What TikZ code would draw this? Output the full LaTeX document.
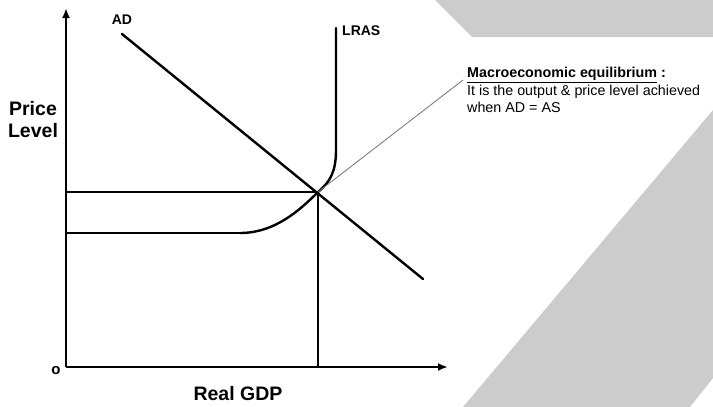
\documentclass[tikz,border=0pt]{standalone}
\usepackage{fontspec}
\setmainfont{Liberation Sans}
\usetikzlibrary{arrows.meta}
\definecolor{panelgray}{RGB}{204,204,204}
\definecolor{leadgray}{RGB}{125,125,125}
\newcommand{\axisfont}{\fontsize{19.5}{22}\selectfont\bfseries}
\newcommand{\curvefont}{\fontsize{14}{16}\selectfont\bfseries}
\newcommand{\notefont}{\fontsize{14.3}{17.5}\selectfont}

\begin{document}
\begin{tikzpicture}[x=1pt,y=-1pt,
    axis/.style={line width=2.6pt,-{Latex[length=10pt,width=8pt]}},
    curve/.style={line width=2.4pt,line cap=round},
    guide/.style={line width=2.4pt}]
    \useasboundingbox (0,0) rectangle (713,407);
    \fill[panelgray] (435,0) -- (472,37) -- (713,37) -- (713,0) -- cycle;
    \fill[panelgray] (463,407) -- (713,110) -- (713,378) -- (690,407) -- cycle;

    \coordinate (O) at (66,367);
    \coordinate (ytop) at (66,8);
    \coordinate (xend) at (448,367);
    \coordinate (E) at (318,192);
    \coordinate (P1) at (66,192);
    \coordinate (Y1) at (318,367);
    \coordinate (P2) at (66,233);
    \coordinate (bend) at (240,233);
    \coordinate (ad1) at (122,34);
    \coordinate (ad2) at (423,279);
    \coordinate (lras1) at (336,28);
    \coordinate (lras2) at (336,150);
    \coordinate (call) at (463,80);

    \node (1) at (33,120) [align=center,font=\axisfont] {Price\\Level};
    \node (2) at (238,394) [font=\axisfont] {Real GDP};
    \node (3) at (56,371) {\fontsize{15}{16}\selectfont\bfseries o};
    \node (4) at (122,20) [font=\curvefont] {AD};
    \node (5) [anchor=west,inner sep=0pt,font=\curvefont] at (342,31) {LRAS};
    \node (6) [anchor=north west,inner sep=0pt,align=left,font=\notefont] at (467,67)
        {\underline{\textbf{Macroeconomic equilibrium}}\textbf{ :}\\
         It is the output \& price level achieved\\
         when AD = AS};

    \draw[guide] (P1) -- (E) -- (Y1);
    \draw[guide] (P2) -- (bend);
    \draw[curve] (bend) .. controls (275,233) and (300,210) .. (E)
        .. controls (330,182) and (336,172) .. (lras2) -- (lras1);
    \draw[curve] (ad1) -- (ad2);
    \draw[leadgray,line width=0.9pt] (E) -- (call);

    \draw[axis] (O) -- (ytop);
    \draw[axis] (O) -- (xend);
\end{tikzpicture}
\end{document}
